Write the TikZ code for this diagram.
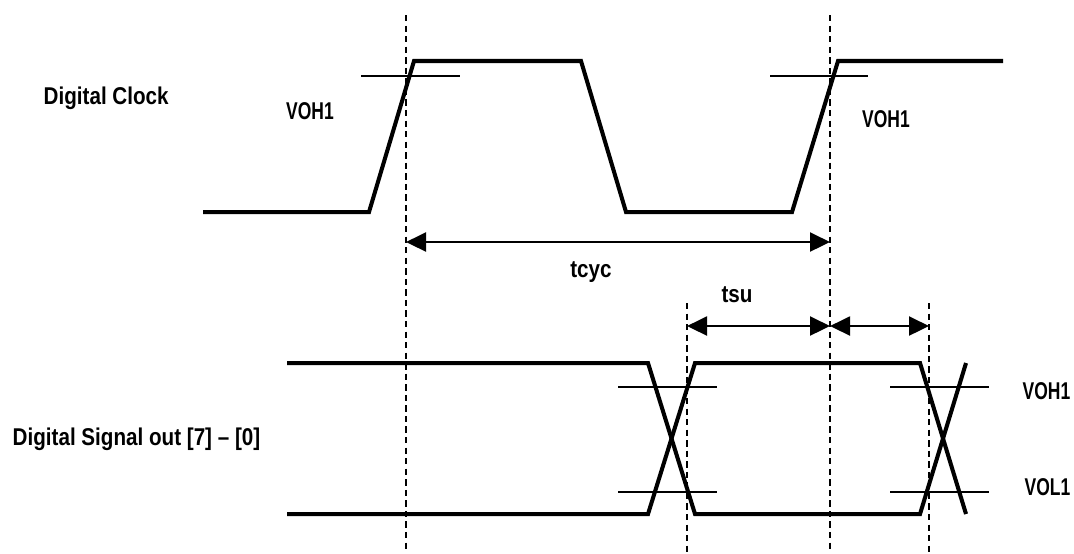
\documentclass[tikz,border=0pt]{standalone}
\usepackage{fontspec}
\setmainfont{Liberation Sans}[FakeStretch=0.85]
\newfontfamily\narrowlbl{Liberation Sans Bold}[FakeStretch=0.72]
\usetikzlibrary{arrows.meta}
\begin{document}
\begin{tikzpicture}[x=0.01cm,y=-0.01cm]

\tikzset{signal/.style = {line width=1.15pt, line join=miter}}
\tikzset{level/.style = {line width=0.45pt}}
\tikzset{guide/.style = {line width=0.45pt, dash pattern=on 1.8pt off 1.2pt}}
\tikzset{dim/.style = {<->, line width=0.6pt, > = {Triangle[length=0.2cm,width=0.19cm]}}}
\tikzset{txt/.style = {inner sep=0pt, font=\fontsize{6.9}{8}\selectfont\bfseries}}
\tikzset{vtxt/.style = {inner sep=0pt, font=\fontsize{6.9}{8}\selectfont\narrowlbl}}

\useasboundingbox (0,0) rectangle (1074,553);
%labels
\node[txt, anchor=base west] (clk) at (43,104) {Digital Clock};
\node[txt, anchor=base west] (sig) at (12,445) {Digital Signal out [7] -- [0]};
\node[vtxt, anchor=base] (voh1) at (310,119) {VOH1};
\node[vtxt, anchor=base] (voh2) at (886,127) {VOH1};
\node[vtxt, anchor=base east] (voh3) at (1071,399) {VOH1};
\node[vtxt, anchor=base east] (vol1) at (1071,495) {VOL1};
%waveforms
\draw[signal] (203,212) -- (369,212) -- (414,61) -- (581,61) -- (626,212) -- (792,212) -- (838,61) -- (1003,61);
\draw[signal] (287,363) -- (648,363) -- (695,514) -- (920,514) -- (966,363);
\draw[signal] (287,514) -- (648,514) -- (695,363) -- (920,363) -- (966,514);
%levels
\draw[level] (361,76) -- (460,76);
\draw[level] (770,76) -- (868,76);
\draw[level] (618,387) -- (717,387);
\draw[level] (618,492) -- (717,492);
\draw[level] (890,387) -- (989,387);
\draw[level] (890,492) -- (989,492);
%guides
\coordinate (g1) at (406,15);
\coordinate (g2) at (830,15);
\coordinate (g3) at (687,303);
\coordinate (g4) at (929,303);
\foreach \g in {g1,g2,g3,g4}
  \draw[guide] (\g) -- (\g |- 0,553);
%timings
\draw[dim] (g1 |- 0,242) -- (g2 |- 0,242);
\draw[dim] (g3 |- 0,326) -- (g2 |- 0,326);
\draw[dim] (g2 |- 0,326) -- (g4 |- 0,326);
\node[txt, anchor=base] (tcyc) at (591,277) {tcyc};
\node[txt, anchor=base] (tsu) at (737,302) {tsu};

\end{tikzpicture}
\end{document}
